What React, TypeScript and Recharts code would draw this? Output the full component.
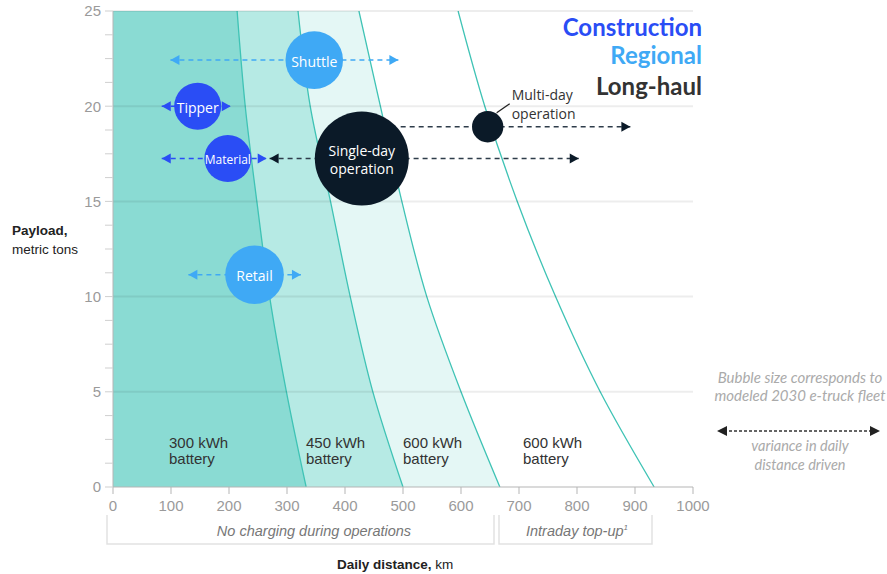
import { ComposedChart, Area, Scatter, XAxis, YAxis, ZAxis, ReferenceLine } from "recharts";

// battery range curves: daily km reachable at each payload level
const tonsLevels = [0, 5, 10, 15, 20, 25];
const km300 = [333, 299, 270, 248, 228, 214];
const km450 = [500, 448, 409, 375, 340, 319];
const km600 = [667, 600, 541, 498, 461, 424];
const km600TopUp = [933, 840, 763, 697, 641, 595];

const xTicks = [0, 100, 200, 300, 400, 500, 600, 700, 800, 900, 1000];
const yTicks = [0, 1.25, 2.5, 3.75, 5, 6.25, 7.5, 8.75, 10, 11.25, 12.5, 13.75, 15, 16.25, 17.5, 18.75, 20, 21.25, 22.5, 23.75, 25];
const yLabelTicks = [0, 5, 10, 15, 20, 25];
const gridTons = [5, 10, 15, 20, 25];

type Bubble = { name: string; km: number; tons: number; fleet: number };
type Range = { name: string; tons: number; from: number; to: number; openStart?: boolean };

const construction: Bubble[] = [
  { name: "Tipper", km: 146, tons: 20.0, fleet: 9 },
  { name: "Material", km: 198, tons: 17.25, fleet: 9 },
];
const regional: Bubble[] = [
  { name: "Shuttle", km: 347, tons: 22.42, fleet: 13.5 },
  { name: "Retail", km: 244, tons: 11.15, fleet: 14 },
];
const longHaul: Bubble[] = [
  { name: "Single-day\noperation", km: 429, tons: 17.25, fleet: 36 },
  { name: "Multi-day\noperation", km: 646, tons: 18.92, fleet: 4 },
];

const constructionRanges: Range[] = [
  { name: "Tipper", tons: 20.0, from: 84, to: 203 },
  { name: "Material", tons: 17.25, from: 84, to: 265 },
];
const regionalRanges: Range[] = [
  { name: "Shuttle", tons: 22.42, from: 99, to: 492 },
  { name: "Retail", tons: 11.15, from: 130, to: 324 },
];
const longHaulRanges: Range[] = [
  { name: "Single-day", tons: 17.25, from: 270, to: 803 },
  { name: "Multi-day", tons: 18.92, from: 496, to: 892, openStart: true },
];

const batteryRows = tonsLevels.map((t, i) => ({
  tons: t,
  b300: km300[i],
  b450: km450[i],
  b600: km600[i],
  b600TopUp: km600TopUp[i],
}));

const BLUE = "#2a4df5";
const LIGHT_BLUE = "#3fa9f5";
const NAVY = "#0b1a28";
const TEAL_LINE = "#3fc3b5";

const labelFont: Record<string, number> = { Material: 12 };

const bubbleShape = (fill: string) => (props: any) => {
  const { cx, cy, width, payload } = props;
  const r = width / 2;
  const lines: string[] = String(payload.name).split("\n");
  if (payload.name.startsWith("Multi-day")) {
    return (
      <g>
        <circle cx={cx} cy={cy} r={r} fill={fill} />
        <line x1={cx + 9} y1={cy - 14} x2={cx + 22} y2={cy - 23} stroke="#222" strokeWidth={1.3} />
        <text x={cx + 24} y={cy - 27} fontSize={14} fill="#333" fontFamily="Open Sans">
          {lines[0]}
        </text>
        <text x={cx + 24} y={cy - 8} fontSize={14} fill="#333" fontFamily="Open Sans">
          {lines[1]}
        </text>
      </g>
    );
  }
  const fs = labelFont[payload.name] ?? 14;
  const lh = 18;
  return (
    <g>
      <circle cx={cx} cy={cy} r={r} fill={fill} />
      {lines.map((l, i) => (
        <text
          key={i}
          x={cx}
          y={cy + 1 + (i - (lines.length - 1) / 2) * lh}
          textAnchor="middle"
          dominantBaseline="central"
          fontSize={fs}
          fill="#fff"
          fontFamily="Open Sans"
        >
          {l}
        </text>
      ))}
    </g>
  );
};

const arrowHead = (fill: string) => (props: any) => {
  const { cx, cy, payload } = props;
  if (!payload.head) return <g />;
  const d = payload.end;
  return <polygon points={`${cx},${cy} ${cx - d * 9},${cy - 5} ${cx - d * 9},${cy + 5}`} fill={fill} />;
};

const rangeSeries = (ranges: Range[], color: string, dash: string) =>
  ranges.map((r) => (
    <Scatter
      key={r.name}
      dataKey="km"
      data={[
        { km: r.from, tons: r.tons, end: -1, head: !r.openStart },
        { km: r.to, tons: r.tons, end: 1, head: true },
      ]}
      line={{ stroke: dash, strokeWidth: 1.5, strokeDasharray: "5 4" }}
      shape={arrowHead(color)}
      isAnimationActive={false}
    />
  ));

const muted = "#9a9a9a";

export default function App() {
  return (
    <div style={{ position: "absolute", left: 0, top: 0, width: 887, height: 574, background: "#fff" }}>
      <ComposedChart
        width={887}
        height={574}
        layout="vertical"
        data={batteryRows}
        margin={{ top: 11, right: 194, bottom: 0, left: 0 }}
      >
        <XAxis
          type="number"
          domain={[0, 1000]}
          allowDataOverflow
          ticks={xTicks}
          height={87}
          tickSize={7}
          tickMargin={6}
          axisLine={{ stroke: "#b5b5b5" }}
          tickLine={{ stroke: "#b5b5b5" }}
          tick={{ fill: muted, fontSize: 15, fontFamily: "Liberation Sans" }}
        />
        <YAxis
          type="number"
          dataKey="tons"
          domain={[0, 25]}
          reversed
          allowDataOverflow
          ticks={yTicks}
          interval={0}
          width={113}
          tickSize={8}
          tickMargin={4}
          tickFormatter={(v: number) => (yLabelTicks.includes(v) ? String(v) : "")}
          axisLine={{ stroke: "#b5b5b5" }}
          tickLine={{ stroke: "#cfcfcf" }}
          tick={{ fill: muted, fontSize: 15, fontFamily: "Liberation Sans" }}
        />
        <ZAxis type="number" dataKey="fleet" domain={[0, 36]} range={[0, Math.PI * 47 * 47]} />
        <Area type="monotone" dataKey="b600" fill="#e4f7f5" fillOpacity={1} stroke={TEAL_LINE} strokeWidth={1.3} isAnimationActive={false} />
        <Area type="monotone" dataKey="b450" fill="#b6eae4" fillOpacity={1} stroke={TEAL_LINE} strokeWidth={1.3} isAnimationActive={false} />
        <Area type="monotone" dataKey="b300" fill="#8adbd3" fillOpacity={1} stroke={TEAL_LINE} strokeWidth={1.3} isAnimationActive={false} />
        <Area type="monotone" dataKey="b600TopUp" fill="none" fillOpacity={0} stroke={TEAL_LINE} strokeWidth={1.3} isAnimationActive={false} />
        {gridTons.map((t) => (
          <ReferenceLine key={t} y={t} stroke="#000" strokeOpacity={0.07} strokeWidth={2} />
        ))}
        {rangeSeries(constructionRanges, BLUE, BLUE)}
        {rangeSeries(regionalRanges, LIGHT_BLUE, LIGHT_BLUE)}
        {rangeSeries(longHaulRanges, NAVY, "#2e3c4a")}
        <Scatter dataKey="km" data={construction} shape={bubbleShape(BLUE)} isAnimationActive={false} />
        <Scatter dataKey="km" data={regional} shape={bubbleShape(LIGHT_BLUE)} isAnimationActive={false} />
        <Scatter dataKey="km" data={longHaul} shape={bubbleShape(NAVY)} isAnimationActive={false} />
      </ComposedChart>

      <svg width={887} height={574} style={{ position: "absolute", left: 0, top: 0, pointerEvents: "none" }}>
        {/* legend */}
        <g fontFamily="Lato" fontWeight="bold" fontSize={24} textAnchor="end">
          <text x={702} y={36} fill={BLUE}>Construction</text>
          <text x={702} y={64} fill={LIGHT_BLUE}>Regional</text>
          <text x={702} y={95} fill="#333">Long-haul</text>
        </g>

        {/* battery labels */}
        <g fontFamily="Liberation Sans" fontSize={15} fill="#333">
          <text x={169} y={448}>300 kWh</text>
          <text x={169} y={464}>battery</text>
          <text x={306} y={448}>450 kWh</text>
          <text x={306} y={464}>battery</text>
          <text x={403} y={448}>600 kWh</text>
          <text x={403} y={464}>battery</text>
          <text x={523} y={448}>600 kWh</text>
          <text x={523} y={464}>battery</text>
        </g>

        {/* axis titles */}
        <g fontFamily="Liberation Sans" fontSize={13.5} fill="#222">
          <text x={12} y={235} fontWeight="bold">Payload,</text>
          <text x={12} y={254}>metric tons</text>
          <text x={337} y={569}>
            <tspan fontWeight="bold">Daily distance,</tspan> km
          </text>
        </g>

        {/* charging brackets */}
        <g stroke="#e2e2e2" strokeWidth={1.5} fill="none">
          <polyline points="107,515 107,544 494,544 494,515" />
          <polyline points="499,515 499,544 652,544 652,515" />
        </g>
        <g fontFamily="Liberation Sans" fontStyle="italic" fontSize={14.5} fill="#777" textAnchor="middle">
          <text x={314} y={536}>No charging during operations</text>
          <text x={577} y={536}>
            Intraday top-up<tspan fontSize={8} dy={-6}>1</tspan>
          </text>
        </g>

        {/* notes */}
        <g fontFamily="Lato" fontStyle="italic" fontSize={15} fill="#aaaaaa" textAnchor="middle">
          <text x={800} y={383}>Bubble size corresponds to</text>
          <text x={800} y={401}>modeled 2030 e-truck fleet</text>
        </g>
        <g fontFamily="Lato" fontStyle="italic" fontSize={14.5} fill="#aaaaaa" textAnchor="middle">
          <text x={800} y={451}>variance in daily</text>
          <text x={800} y={470}>distance driven</text>
        </g>
        <line x1={724} y1={431} x2={872} y2={431} stroke="#333" strokeWidth={1.4} strokeDasharray="3 2" />
        <polygon points="717,431 727,426 727,436" fill="#222" />
        <polygon points="880,431 870,426 870,436" fill="#222" />
      </svg>
    </div>
  );
}
